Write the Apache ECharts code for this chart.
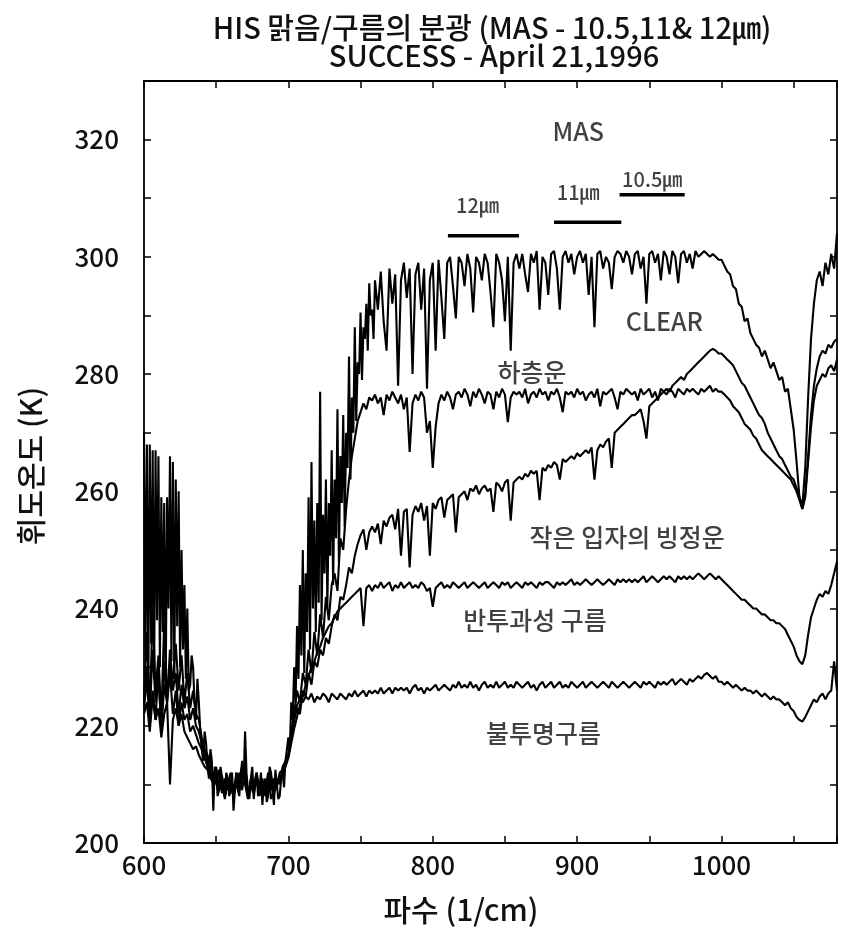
<!DOCTYPE html>
<html>
<head>
<meta charset="utf-8">
<script src="https://cdn.jsdelivr.net/npm/echarts@6/dist/echarts.min.js"></script>
<style>
  html, body { margin: 0; padding: 0; background: #ffffff; }
  #chart { width: 841px; height: 929px; }
</style>
</head>
<body>
<div id="chart"></div>
<script>
// Wavenumber grid (1/cm)
const wavenumber = [
  600, 602, 604, 606, 608, 610, 612, 614, 616, 618,
  620, 622, 624, 626, 628, 630, 632, 634, 636, 638,
  640, 642, 644, 646, 648, 650, 652, 654, 656, 658,
  660, 662, 664, 666, 668, 670, 672, 674, 676, 678,
  680, 682, 684, 686, 688, 690, 692, 694, 696, 698,
  700, 702, 704, 706, 708, 710, 712, 714, 716, 718,
  720, 722, 724, 726, 728, 730, 732, 734, 736, 738,
  740, 742, 744, 746, 748, 750, 752, 754, 756, 758,
  760, 762, 764, 766, 768, 770, 772, 774, 776, 778,
  780, 782, 784, 786, 788, 790, 792, 794, 796, 798,
  800, 802, 804, 806, 808, 810, 812, 814, 816, 818,
  820, 822, 824, 826, 828, 830, 832, 834, 836, 838,
  840, 842, 844, 846, 848, 850, 852, 854, 856, 858,
  860, 862, 864, 866, 868, 870, 872, 874, 876, 878,
  880, 882, 884, 886, 888, 890, 892, 894, 896, 898,
  900, 902, 904, 906, 908, 910, 912, 914, 916, 918,
  920, 922, 924, 926, 928, 930, 932, 934, 936, 938,
  940, 942, 944, 946, 948, 950, 952, 954, 956, 958,
  960, 962, 964, 966, 968, 970, 972, 974, 976, 978,
  980, 982, 984, 986, 988, 990, 992, 994, 996, 998,
  1000, 1002, 1004, 1006, 1008, 1010, 1012, 1014, 1016, 1018,
  1020, 1022, 1024, 1026, 1028, 1030, 1032, 1034, 1036, 1038,
  1040, 1042, 1044, 1046, 1048, 1050, 1052, 1054, 1056, 1058,
  1060, 1062, 1064, 1066, 1068, 1070, 1072, 1074, 1076, 1078,
  1080
];

// Brightness temperature (K), clear sky
const clearSky = [
  270, 268, 268, 267, 267, 266, 259, 258, 259, 266,
  265, 262, 260, 250, 244, 240, 227, 230, 221, 224,
  216, 219, 213, 216, 205.5, 212, 209, 213, 208, 211,
  209, 205.5, 212, 208, 213, 219, 209, 211, 207.5, 212,
  209, 206.5, 211, 208, 212, 206.5, 210, 208, 212, 214,
  218, 224, 230, 237, 244, 250, 246, 259, 265, 255,
  258, 277, 256, 262, 258, 267, 262, 274, 266, 273,
  270, 283, 276, 288, 282, 290.5, 288, 292, 295.5, 291,
  296, 291, 297.5, 289, 284, 298, 292, 297, 278, 296,
  299, 293, 298, 280, 297, 299, 291, 298, 277.5, 296,
  299, 284, 299.5, 293, 286, 299, 300, 295, 289.5, 300,
  299, 295, 300.5, 298, 290.5, 300, 299, 296, 300.5, 299,
  294, 288, 300.5, 299, 296, 289, 300, 284, 299, 300.5,
  298, 300.5, 297, 294, 300.5, 299, 301, 291, 300, 299,
  293.5, 300.5, 301, 298, 291, 300, 301, 299, 300.5, 297,
  300, 301, 299, 300.5, 293.5, 300, 288, 300.5, 301, 298,
  300, 299, 294.5, 300, 301, 300.5, 299, 301, 300, 297,
  300.5, 301, 298, 300, 292, 300.5, 301, 299, 300.5, 296,
  301, 300, 297, 301, 300, 295.5, 300.5, 301, 299, 300.5,
  298, 301, 300, 300.5, 301, 300.5, 300, 300.5, 300, 299.5,
  299.5, 298.5, 297.5, 297, 295, 294.5, 292, 291.5, 289, 289.5,
  287, 286, 285, 284.5, 283, 284, 282.5, 281, 282, 280.5,
  279, 279.5, 277, 277.5, 274, 270.5, 265, 259, 257.5, 264,
  276, 286, 292, 296, 297.5, 295, 299, 297, 300.5, 298,
  304
];

// Clear sky, extra samples between grid points in the line-dense bands
const clearDetailNu = [
  601, 603, 605, 607, 609, 611, 613, 615, 617, 619,
  621, 623, 625, 627, 629, 631, 633, 635, 637, 639,
  641, 643, 645, 647, 649, 651, 653, 655, 657, 659,
  661, 663, 665, 667, 669, 671, 673, 675, 677, 679,
  681, 683, 685, 687, 689, 691, 693, 695, 697, 699,
  701, 703, 705, 707, 709, 711, 713, 715, 717, 719,
  721, 723, 725, 727, 729, 731, 733, 735, 737, 739,
  741, 743, 745, 747, 749, 751, 753, 755, 757, 759
];
const clearDetailT = [
  232, 226, 234, 228, 238, 230, 236, 226, 240, 231,
  228, 237, 230, 233, 228, 226, 232, 224, 228, 219,
  214, 217, 211, 214, 213, 208, 213, 209.5, 212, 208,
  212, 209, 209, 212, 210, 212, 207.5, 213, 210, 208,
  212, 210, 207, 213, 209, 212.5, 207.5, 211, 209.5, 216,
  216, 221, 224, 228, 232, 229, 236, 233, 240, 236,
  241, 238, 246, 240, 249, 244, 252, 248, 258, 254,
  264, 262, 270, 272, 280, 279, 286, 284, 290, 286
];

// Low cloud
const lowCloud = [
  224, 236, 222, 240, 226, 232, 221, 238, 225, 230,
  228, 234, 226, 232, 224, 229, 223, 226, 222, 221,
  218, 216, 215, 213, 212, 210, 212.5, 208.5, 211, 209,
  211, 208, 210, 212, 209, 213, 208, 210.5, 209, 211,
  208, 210, 209, 212, 207.5, 209, 211, 210, 213, 214,
  215, 219, 222, 226, 224, 229, 227, 233, 229, 236,
  232, 239, 235, 242, 238, 244, 246, 243, 252, 250,
  257, 262, 266, 269, 272, 273.5, 275, 274, 276, 275.5,
  276.5, 275, 276, 273, 276.5, 275.5, 277, 276, 275, 276.5,
  274, 276, 266.7, 275, 276.5, 275.5, 277, 276, 270, 272,
  264, 271, 275, 276.5, 275.5, 277, 276, 274, 276.5, 277,
  276, 277.5, 276.5, 274.5, 277, 276, 277.5, 276.5, 275, 277,
  276.5, 274, 277, 276, 277.5, 276.5, 271.8, 276, 277, 276.5,
  277, 276, 277.5, 275, 276.5, 277, 276, 277.5, 276.5, 277,
  275.5, 277, 276.5, 277.5, 276, 273.5, 277, 276.5, 277, 276,
  277.5, 276.5, 277, 275.5, 276.5, 277, 276, 277.5, 274.5, 277,
  276.5, 277, 277.5, 276, 274, 277, 276.5, 277.5, 277, 276.5,
  277, 275.5, 277.5, 276.5, 277, 277.5, 276, 277, 275.5, 277.5,
  277, 276.5, 277.5, 277, 276, 277.5, 277, 276.5, 277.5, 277,
  277.5, 277, 276.5, 277.5, 277, 277.5, 278, 277, 277.5, 277,
  277, 276.5, 276, 275.5, 274.5, 274, 273.5, 272.5, 271.5, 271,
  270.5, 269.5, 269, 268, 267, 266.5, 266, 265.5, 265, 264.5,
  264, 263.5, 263, 262.5, 262, 261, 260, 258.5, 257, 259,
  265, 271, 275.5, 278, 279, 280, 279.5, 281, 281.5, 280.5,
  282.5
];

// Ice cloud of small particles
const iceCloud = [
  226, 230, 222, 233, 224, 228, 220, 231, 224, 233,
  226, 229, 222, 227, 223, 225, 221, 223, 220, 219,
  217, 215.5, 214, 212, 211, 213, 209, 211.5, 208, 210,
  212, 209, 211, 209.5, 214, 210, 207.5, 211, 210, 212,
  209.5, 211, 208, 210.5, 209, 211, 209.5, 212, 212.5, 213.5,
  215, 218, 221, 223, 222, 226, 225, 229, 227, 231,
  230, 233, 232, 235, 234, 237, 239, 238, 242, 241.5,
  244, 247, 246, 249, 251, 252.5, 253.5, 250, 253, 254,
  253, 254.5, 251, 255, 254, 255.5, 256, 253.5, 257, 249,
  256.5, 257, 247, 256, 257.5, 256.5, 258, 255, 257.5, 249,
  258, 257, 258.5, 259, 255.5, 258.5, 259, 259.5, 253, 259,
  259.5, 260, 258.5, 260.5, 260, 261, 259.5, 260.5, 261, 260,
  260.5, 256.5, 261.5, 261, 260, 261.5, 262, 255, 261.5, 262,
  262.5, 262, 263, 262.5, 263.5, 263, 263.5, 258.5, 264, 263.5,
  264.5, 264, 265, 264.5, 262, 265.5, 265, 265.5, 266, 265.5,
  266.5, 266, 266.5, 267, 266.5, 267.5, 262, 267, 268, 267.5,
  268.5, 269, 264, 270, 270.5, 271, 271.5, 272, 272.5, 273,
  273, 273.5, 274, 272, 269, 274.5, 275, 275.5, 276, 276.5,
  277, 277.5, 277, 278, 278.5, 279, 279.5, 279, 280, 280.5,
  281, 281.5, 282, 282.5, 283, 283.5, 284, 284.3, 284, 283.5,
  283.5, 283, 282.5, 282, 281.5, 280.5, 279.5, 278.5, 278, 277,
  276, 275, 274, 273, 272.5, 271.5, 270, 269, 268, 267,
  266, 265.5, 264.5, 263.5, 262.5, 262, 260.5, 259, 257, 259.5,
  266, 273, 278, 281, 283, 284, 283.5, 285, 284.5, 285.5,
  286
];

// Semi-transparent cloud
const thinCloud = [
  223, 228, 220, 226, 221, 230, 219, 227, 224, 229,
  222, 226, 220, 224, 221, 222, 219, 220, 218.5, 217,
  216, 214.5, 213, 211.5, 210, 212, 209, 210.5, 207.5, 211,
  210, 208.5, 212, 210, 213, 211, 208, 209.5, 208.5, 211,
  210, 208, 210.5, 209, 211.5, 208.5, 210, 211, 212, 213,
  214.5, 217, 219.5, 221.5, 223.5, 225, 227, 228.5, 230, 231,
  232.5, 233.5, 235, 236, 237, 237.5, 238.5, 239.5, 240, 240.5,
  241, 241.5, 242, 242.5, 243, 243.5, 237, 243.5, 244, 243,
  244, 243.5, 244.5, 243.5, 244, 244.5, 243, 244, 243.5, 244.5,
  243.5, 244, 244.5, 243.5, 244, 243.5, 244.5, 244, 243, 243.5,
  240.3, 243.5, 244, 244.5, 243.5, 244, 243.5, 244.5, 244, 243.5,
  244, 244.5, 243.5, 244, 244.5, 244, 243.5, 244, 244.5, 243.5,
  244, 244.5, 244, 243.5, 244.5, 244, 244.5, 243.5, 244, 244.5,
  244, 243.5, 244.5, 244, 244.5, 244, 243.5, 244.5, 244, 244.5,
  244.5, 244, 243.5, 244.5, 244, 244.5, 244, 244.5, 245, 244,
  244.5, 244, 244.5, 245, 244.5, 244, 244.5, 245, 244.5, 244,
  244.5, 245, 244.5, 244, 245, 244.5, 245, 244.5, 245, 244.5,
  245, 244.5, 245, 245.5, 244.5, 245, 245.5, 245, 244.5, 245,
  245.5, 245, 245.5, 245, 244.5, 245.5, 245, 245.5, 245, 245.5,
  245, 245.5, 246, 245.5, 245, 245.5, 246, 245.5, 245, 245.5,
  245, 244.5, 244, 243.5, 243, 242.5, 242, 241.5, 241.5, 241,
  240.5, 240, 240, 239.5, 239, 239, 238.5, 238, 238, 237.5,
  237.5, 237, 236.5, 235.5, 234.5, 233.5, 232, 231, 230.5, 232,
  235.5, 238.5, 240, 241.5, 242.5, 242, 243, 242.5, 244, 246,
  248
];

// Opaque cloud
const opaqueCloud = [
  222, 224, 219, 225, 221, 223, 218, 222, 224, 210,
  221, 223, 220, 222, 219, 218, 217, 216, 216.5, 215,
  214, 213, 212.5, 211, 210.5, 211.5, 209, 210, 208, 210.5,
  209.5, 208, 211, 209, 212, 210.5, 208.5, 210, 209, 210.5,
  209, 208.5, 210, 208.5, 211, 209, 210.5, 211, 212, 213.5,
  215, 218, 221, 223.5, 224.5, 224, 225, 224.5, 225.5, 224,
  225, 224.5, 225.5, 225, 224, 225.5, 225, 224.5, 225.5, 225,
  224.5, 225.5, 225, 226, 225, 225.5, 226, 225, 226, 225.5,
  226, 225.5, 226.5, 225.5, 226, 226.5, 225.5, 226.5, 226, 226.5,
  226, 226.5, 225.5, 226.5, 227, 226, 226.5, 225.5, 226.5, 226,
  226.5, 227, 226, 226.5, 227, 226.5, 226, 227, 226.5, 227.5,
  226.5, 227, 226.5, 227.5, 226.5, 227, 226, 227, 227.5, 226.5,
  227, 226.5, 227.5, 226.5, 227, 227.5, 226.5, 227, 226.5, 227.5,
  227, 226.5, 227, 227.5, 226.5, 227, 226, 227, 227.5, 226.5,
  227, 227.5, 226.5, 227, 227.5, 226.5, 227, 226.5, 227.5, 227,
  226.5, 227, 227.5, 226.5, 227, 227.5, 227, 226.5, 227, 227.5,
  227, 226.5, 227.5, 227, 226.5, 227, 227.5, 227, 226.5, 227,
  227.5, 227, 226.5, 227.5, 227, 227.5, 227, 226.5, 227.5, 227,
  227.5, 227, 227.5, 228, 227, 227.5, 228, 227.5, 227, 228,
  227.5, 228, 228.5, 228, 228.7, 229, 228.5, 228, 228.5, 227.5,
  227.5, 227, 227.5, 227, 226.5, 227, 226.5, 226, 226.5, 226,
  226, 225.5, 226, 225.5, 225, 225.5, 225, 224.5, 225, 224.5,
  224.5, 224, 223.5, 224, 223, 222.5, 221.5, 221, 220.7, 221.5,
  222.5, 223.5, 224.5, 224, 225, 225.5, 224.5, 225.5, 226, 231,
  226
];

// MAS channel bands: start / end wavenumber and drawing height (K)
const bandNames = ['12㎛', '11㎛', '10.5㎛'];
const bandStart = [810.5, 884, 929.4];
const bandEnd = [859.7, 930.6, 974.5];
const bandLevel = [303.6, 305.9, 310.6];
const bandLabelNu = [831, 900.7, 952];
const bandLabelT = [308.8, 311, 313.2];

// Curve labels
const curveLabels = ['MAS', 'CLEAR', '하층운', '작은 입자의 빙정운', '반투과성 구름', '불투명구름'];
const curveLabelNu = [900.8, 960.4, 868.8, 934.7, 870.8, 876.7];
const curveLabelT = [321.3, 288.9, 280.3, 252.1, 238, 218.6];

const FONT = '"Noto Sans CJK KR", "Noto Sans", sans-serif';
const INK = '#111111';
const WEIGHT = 500;

function toPairs(values) {
  return wavenumber.map((nu, i) => [nu, values[i]]);
}

// Clear-sky curve: regular grid plus the extra samples, ordered by wavenumber
const clearPairs = toPairs(clearSky)
  .concat(clearDetailNu.map((nu, i) => [nu, clearDetailT[i]]))
  .sort((a, b) => a[0] - b[0]);

const spectra = [
  toPairs(opaqueCloud), toPairs(thinCloud), toPairs(iceCloud), toPairs(lowCloud), clearPairs
];

const series = spectra.map(data => ({
  type: 'line',
  data: data,
  showSymbol: false,
  symbol: 'none',
  lineStyle: { color: '#000', width: 2.1 },
  silent: true,
  animation: false
}));

bandNames.forEach((name, i) => {
  series.push({
    type: 'line',
    data: [[bandStart[i], bandLevel[i]], [bandEnd[i], bandLevel[i]]],
    showSymbol: false,
    symbol: 'none',
    lineStyle: { color: '#000', width: 3.5 },
    silent: true,
    animation: false
  });
});

series.push({
  type: 'scatter',
  symbolSize: 0,
  itemStyle: { color: 'rgba(0,0,0,0)' },
  data: bandNames.map((name, i) => ({ name: name, value: [bandLabelNu[i], bandLabelT[i]] })),
  label: {
    show: true, position: 'inside', formatter: '{b}',
    fontFamily: FONT, fontSize: 20, fontWeight: WEIGHT, color: INK
  },
  silent: true,
  animation: false
});

series.push({
  type: 'scatter',
  symbolSize: 0,
  itemStyle: { color: 'rgba(0,0,0,0)' },
  data: curveLabels.map((name, i) => ({ name: name, value: [curveLabelNu[i], curveLabelT[i]] })),
  label: {
    show: true, position: 'inside', formatter: '{b}',
    fontFamily: FONT, fontSize: 25, fontWeight: WEIGHT, color: INK
  },
  silent: true,
  animation: false
});

const axisLineStyle = { show: true, lineStyle: { color: '#000', width: 1.8 } };
const tickStyle = { show: true, inside: true, length: 7, lineStyle: { color: '#000', width: 1.5 } };

const option = {
  backgroundColor: '#ffffff',
  animation: false,
  grid: { left: 144, right: 4, top: 81, bottom: 86 },
  xAxis: [
    {
      type: 'value', min: 600, max: 1080, interval: 50, position: 'bottom',
      axisLine: axisLineStyle, axisTick: tickStyle, splitLine: { show: false },
      axisLabel: {
        margin: 9, fontFamily: FONT, fontSize: 26, fontWeight: WEIGHT, color: INK,
        formatter: v => (v % 100 === 0 ? String(v) : '')
      }
    },
    {
      type: 'value', min: 600, max: 1080, interval: 50, position: 'top',
      axisLine: axisLineStyle, axisTick: tickStyle, splitLine: { show: false },
      axisLabel: { show: false }
    }
  ],
  yAxis: [
    {
      type: 'value', min: 200, max: 330, interval: 10, position: 'left',
      axisLine: axisLineStyle, axisTick: tickStyle, splitLine: { show: false },
      axisLabel: {
        margin: 25, fontFamily: FONT, fontSize: 26, fontWeight: WEIGHT, color: INK,
        formatter: v => (v % 20 === 0 ? String(v) : '')
      }
    },
    {
      type: 'value', min: 200, max: 330, interval: 10, position: 'right',
      axisLine: axisLineStyle, axisTick: tickStyle, splitLine: { show: false },
      axisLabel: { show: false }
    }
  ],
  graphic: [
    {
      type: 'text', x: 492, y: 28,
      style: {
        text: 'HIS 맑음/구름의 분광 (MAS - 10.5,11& 12㎛)',
        fontFamily: FONT, fontSize: 29, fontWeight: WEIGHT, fill: INK,
        textAlign: 'center', textVerticalAlign: 'middle'
      }
    },
    {
      type: 'text', x: 494, y: 56,
      style: {
        text: 'SUCCESS - April 21,1996',
        fontFamily: FONT, fontSize: 29, fontWeight: WEIGHT, fill: INK,
        textAlign: 'center', textVerticalAlign: 'middle'
      }
    },
    {
      type: 'text', x: 461, y: 910,
      style: {
        text: '파수 (1/cm)',
        fontFamily: FONT, fontSize: 30, fontWeight: WEIGHT, fill: INK,
        textAlign: 'center', textVerticalAlign: 'middle'
      }
    },
    {
      type: 'text', x: 31, y: 466, rotation: Math.PI / 2,
      style: {
        text: '휘도온도 (K)',
        fontFamily: FONT, fontSize: 30, fontWeight: WEIGHT, fill: INK,
        textAlign: 'center', textVerticalAlign: 'middle'
      }
    }
  ],
  series: series
};

const chart = echarts.init(document.getElementById('chart'), null, { renderer: 'canvas' });
chart.setOption(option);
</script>
</body>
</html>
